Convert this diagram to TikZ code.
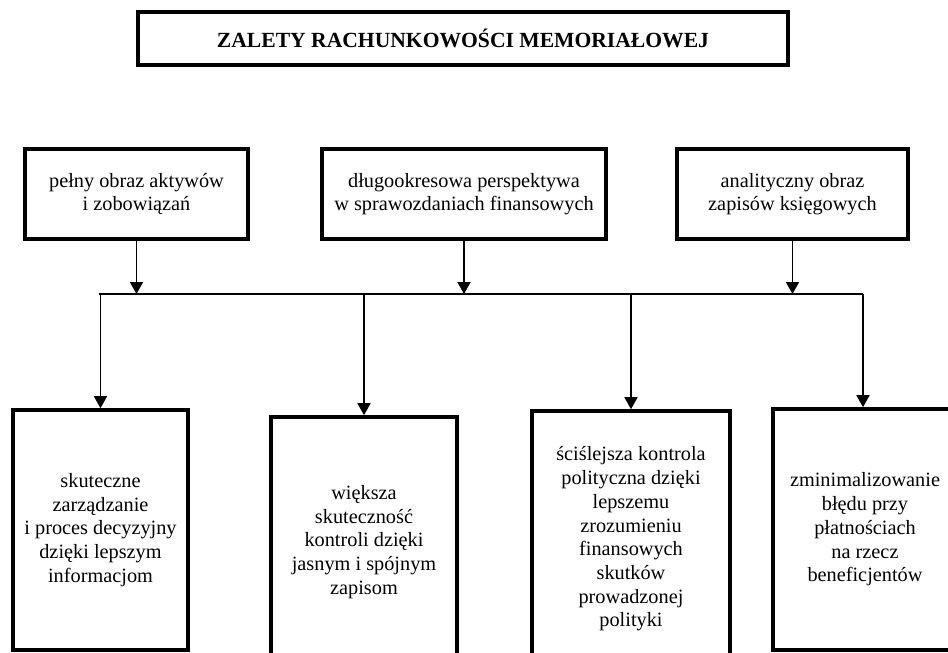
\documentclass[tikz,border=0pt]{standalone}
\usepackage{fontspec}
\setmainfont{Liberation Serif}
\usetikzlibrary{arrows.meta,positioning}

\tikzset{
  box/.style={draw, line width=3.6pt, align=center, inner sep=0pt,
    font=\fontsize{20.3}{23.7}\selectfont},
  titlebox/.style={box, line width=4pt, font=\fontsize{21.6}{25}\selectfont\bfseries},
  conn/.style={line width=1.7pt},
  arr/.style={conn, -{Triangle[length=12pt,width=13pt]}}
}

\begin{document}
\begin{tikzpicture}[x=1pt,y=-1pt]
  \clip (0,0) rectangle (948,653);
  % naglowek
  \node[titlebox, minimum width=650pt, minimum height=53pt] (zalety) at (463,38.5)
    {ZALETY RACHUNKOWOŚCI MEMORIAŁOWEJ};
  % gorny rzad
  \node[box, minimum width=223pt, minimum height=90pt] (obraz) at (136.5,194)
    {pełny obraz aktywów\\ i zobowiązań};
  \node[box, minimum width=284pt, minimum height=90pt] (perspektywa) at (464,194)
    {długookresowa perspektywa\\ w sprawozdaniach finansowych};
  \node[box, minimum width=231pt, minimum height=90pt] (zapisy) at (792.5,194)
    {analityczny obraz\\ zapisów księgowych};
  % dolny rzad
  \node[box, minimum width=175pt, minimum height=240pt] (zarzadzanie) at (100.5,530)
    {skuteczne\\ zarządzanie\\ i proces decyzyjny\\ dzięki lepszym\\ informacjom};
  \node[box, minimum width=186pt, minimum height=250pt] (kontrola) at (364,542)
    {większa\\ skuteczność\\ kontroli dzięki\\ jasnym i spójnym\\ zapisom};
  \node[box, minimum width=198pt, minimum height=256pt] (polityka) at (631,539)
    {ściślejsza kontrola\\ polityczna dzięki\\ lepszemu\\ zrozumieniu\\ finansowych\\ skutków\\ prowadzonej\\ polityki};
  \node[box, minimum width=184pt, minimum height=241pt] (bledy) at (865,529.5)
    {zminimalizowanie\\ błędu przy\\ płatnościach\\ na rzecz\\ beneficjentów};
  % szyna
  \coordinate (szynaL) at (99,294);
  \coordinate (szynaP) at (863,294);
  \draw[conn] (szynaL) -- (szynaP);
  \foreach \g in {obraz,perspektywa,zapisy}
    \draw[arr] (\g.south) -- (\g.south |- szynaL);
  \foreach \d in {zarzadzanie,kontrola,polityka}
    \draw[arr] (\d.north |- szynaL) -- (\d.north);
  \draw[arr] (szynaP) -- (szynaP |- bledy.north);
\end{tikzpicture}
\end{document}
